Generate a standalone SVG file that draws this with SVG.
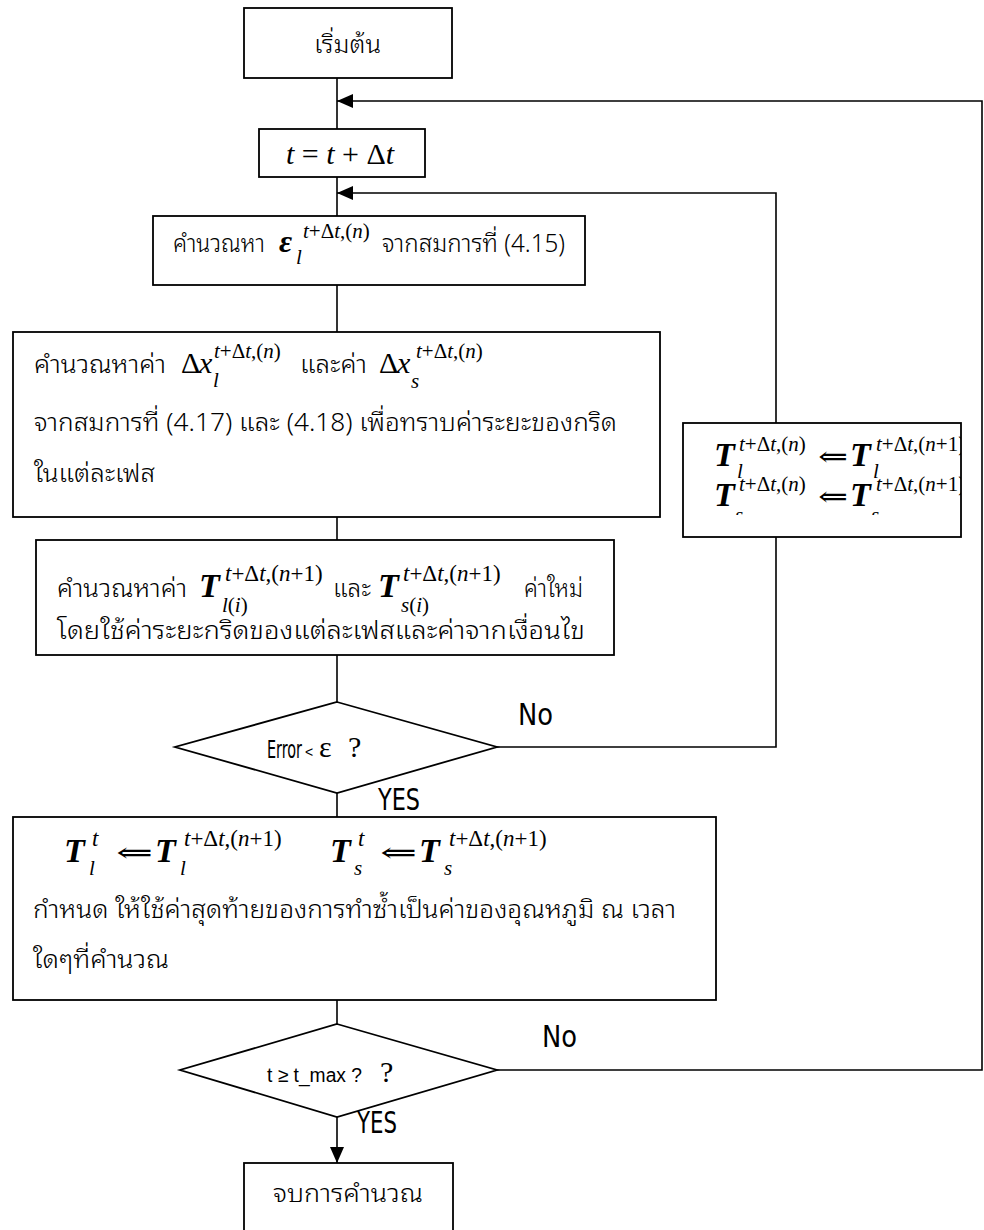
<svg xmlns="http://www.w3.org/2000/svg" width="984" height="1230" viewBox="0 0 984 1230">
<defs>
<style>
.box{fill:none;stroke:#000;stroke-width:1.8}
.ln{fill:none;stroke:#000;stroke-width:1.6}
.th{font-family:"Noto Sans Thai Looped","Noto Sans Thai",Tahoma,Loma,Garuda,"Noto Sans",sans-serif;font-size:25px;font-weight:300;fill:#000}
.m{font-family:"Liberation Serif","Times New Roman",serif;font-style:italic;font-size:30px;fill:#000}
.b{font-weight:bold;font-size:34px}
.s{font-size:21px;font-weight:normal}
.s2{font-size:23px;font-weight:normal}
.u{font-style:normal}
.ar{font-family:"DejaVu Serif","DejaVu Sans",serif;font-style:normal;font-size:28px;fill:#000}
.cond{font-family:"DejaVu Sans Condensed","Liberation Sans Narrow",sans-serif;fill:#000}
.sans{font-family:"Liberation Sans",Arial,sans-serif;fill:#000}
</style>
<marker id="ah" viewBox="0 0 16 14" refX="16" refY="7" markerWidth="16" markerHeight="14" markerUnits="userSpaceOnUse" orient="auto">
<path d="M0,0 L16,7 L0,14 z" fill="#000"/>
</marker>
<clipPath id="rclip"><rect x="683" y="423" width="278" height="92"/></clipPath>
</defs>
<rect width="984" height="1230" fill="#fff"/>

<g id="connectors">
<path class="ln" d="M337,78 V129"/>
<path class="ln" d="M497,1070 H982 V101 H337" marker-end="url(#ah)"/>
<path class="ln" d="M337,177 V216"/>
<path class="ln" d="M497,747 H776 V537"/>
<path class="ln" d="M776,423 V193 H337" marker-end="url(#ah)"/>
<path class="ln" d="M337,285 V332"/>
<path class="ln" d="M337,517 V540"/>
<path class="ln" d="M337,655 V702"/>
<path class="ln" d="M337,793 V817"/>
<path class="ln" d="M337,1000 V1024"/>
<path class="ln" d="M337,1117 V1163" marker-end="url(#ah)"/>
</g>

<g id="start">
<rect class="box" x="244" y="8" width="208" height="70"/>
<text class="th" x="314" y="53" textLength="67" lengthAdjust="spacingAndGlyphs">เริ่มต้น</text>
</g>

<g id="tstep">
<rect class="box" x="259" y="129" width="166" height="48"/>
<text class="m" x="340" y="164" text-anchor="middle" font-size="32">t <tspan class="u">= </tspan>t<tspan class="u"> + Δ</tspan>t</text>
</g>

<g id="eps">
<rect class="box" x="153" y="216" width="432" height="69"/>
<text class="th" x="173" y="252" textLength="92" lengthAdjust="spacingAndGlyphs">คำนวณหา</text>
<text class="m" x="279" y="252"><tspan font-weight="bold" font-size="32">ε</tspan><tspan class="s" x="303" y="238">t<tspan class="u">+Δ</tspan>t<tspan class="u">,(</tspan>n<tspan class="u">)</tspan></tspan><tspan class="s" x="296" y="264">l</tspan></text>
<text class="th" x="382" y="252" textLength="183" lengthAdjust="spacingAndGlyphs">จากสมการที่ (4.15)</text>
</g>

<g id="dx">
<rect class="box" x="13" y="332" width="647" height="185"/>
<text class="th" x="34" y="373" textLength="132" lengthAdjust="spacingAndGlyphs">คำนวณหาค่า</text>
<text class="m" x="181" y="373"><tspan class="u">Δ</tspan><tspan x="199">x</tspan><tspan class="s" x="214" y="358">t<tspan class="u">+Δ</tspan>t<tspan class="u">,(</tspan>n<tspan class="u">)</tspan></tspan><tspan class="s" x="213" y="387">l</tspan></text>
<text class="th" x="300" y="373" textLength="67" lengthAdjust="spacingAndGlyphs">และค่า</text>
<text class="m" x="379" y="373"><tspan class="u">Δ</tspan><tspan x="397">x</tspan><tspan class="s" x="416" y="358">t<tspan class="u">+Δ</tspan>t<tspan class="u">,(</tspan>n<tspan class="u">)</tspan></tspan><tspan class="s" x="411" y="388">s</tspan></text>
<text class="th" x="34" y="431" textLength="583" lengthAdjust="spacingAndGlyphs">จากสมการที่ (4.17) และ (4.18) เพื่อทราบค่าระยะของกริด</text>
<text class="th" x="34" y="482" textLength="121" lengthAdjust="spacingAndGlyphs">ในแต่ละเฟส</text>
</g>

<g id="tcalc">
<rect class="box" x="36" y="540" width="578" height="115"/>
<text class="th" x="57" y="597" textLength="130" lengthAdjust="spacingAndGlyphs">คำนวณหาค่า</text>
<text class="m b" x="199" y="597">T<tspan class="s2" x="225" y="581">t<tspan class="u">+Δ</tspan>t<tspan class="u">,(</tspan>n<tspan class="u">+1)</tspan></tspan><tspan class="s" x="222" y="612">l<tspan class="u">(</tspan>i<tspan class="u">)</tspan></tspan></text>
<text class="th" x="333" y="597" textLength="38" lengthAdjust="spacingAndGlyphs">และ</text>
<text class="m b" x="378" y="597">T<tspan class="s2" x="403" y="581">t<tspan class="u">+Δ</tspan>t<tspan class="u">,(</tspan>n<tspan class="u">+1)</tspan></tspan><tspan class="s" x="401" y="612">s<tspan class="u">(</tspan>i<tspan class="u">)</tspan></tspan></text>
<text class="th" x="524" y="597" textLength="59" lengthAdjust="spacingAndGlyphs">ค่าใหม่</text>
<text class="th" x="57" y="639" textLength="528" lengthAdjust="spacingAndGlyphs">โดยใช้ค่าระยะกริดของแต่ละเฟสและค่าจากเงื่อนไข</text>
</g>

<g id="dec1">
<polygon class="box" points="337,702 497,747 337,793 175,747"/>
<text class="cond" x="267" y="758" font-size="25" textLength="35" lengthAdjust="spacingAndGlyphs">Error</text>
<text class="m u" x="305" y="758" font-size="24"><tspan class="sans" font-size="14" y="757">&lt;</tspan><tspan x="319">ε</tspan><tspan x="348">?</tspan></text>
</g>

<g id="update">
<rect class="box" x="683" y="423" width="278" height="114"/>
<g clip-path="url(#rclip)">
<text class="m b" x="714" y="466" font-size="33">T<tspan class="s" x="739" y="451">t<tspan class="u">+Δ</tspan>t<tspan class="u">,(</tspan>n<tspan class="u">)</tspan></tspan><tspan class="s" x="737" y="478">l</tspan></text>
<text class="ar" x="818" y="466" textLength="30" lengthAdjust="spacingAndGlyphs">⇐</text>
<text class="m b" x="850" y="466" font-size="33">T<tspan class="s" x="876" y="451">t<tspan class="u">+Δ</tspan>t<tspan class="u">,(</tspan>n<tspan class="u">+1)</tspan></tspan><tspan class="s" x="873" y="478">l</tspan></text>
<text class="m b" x="714" y="506" font-size="33">T<tspan class="s" x="739" y="491">t<tspan class="u">+Δ</tspan>t<tspan class="u">,(</tspan>n<tspan class="u">)</tspan></tspan><tspan class="s" x="735" y="522">s</tspan></text>
<text class="ar" x="818" y="506" textLength="30" lengthAdjust="spacingAndGlyphs">⇐</text>
<text class="m b" x="850" y="506" font-size="33">T<tspan class="s" x="876" y="491">t<tspan class="u">+Δ</tspan>t<tspan class="u">,(</tspan>n<tspan class="u">+1)</tspan></tspan><tspan class="s" x="871" y="522">s</tspan></text>
</g>
</g>

<g id="final">
<rect class="box" x="13" y="817" width="703" height="183"/>
<text class="m b" x="64" y="862">T<tspan class="s2" x="92" y="846">t</tspan><tspan class="s" x="89" y="875">l</tspan></text>
<text class="ar" x="116" y="862" textLength="37" lengthAdjust="spacingAndGlyphs">⇐</text>
<text class="m b" x="155" y="862">T<tspan class="s2" x="184" y="846">t<tspan class="u">+Δ</tspan>t<tspan class="u">,(</tspan>n<tspan class="u">+1)</tspan></tspan><tspan class="s" x="180" y="875">l</tspan></text>
<text class="m b" x="330" y="862">T<tspan class="s2" x="358" y="846">t</tspan><tspan class="s" x="354" y="875">s</tspan></text>
<text class="ar" x="380" y="862" textLength="37" lengthAdjust="spacingAndGlyphs">⇐</text>
<text class="m b" x="419" y="862">T<tspan class="s2" x="449" y="846">t<tspan class="u">+Δ</tspan>t<tspan class="u">,(</tspan>n<tspan class="u">+1)</tspan></tspan><tspan class="s" x="444" y="875">s</tspan></text>
<text class="th" x="33" y="918" textLength="643" lengthAdjust="spacingAndGlyphs">กำหนด ให้ใช้ค่าสุดท้ายของการทำซ้ำเป็นค่าของอุณหภูมิ ณ เวลา</text>
<text class="th" x="33" y="968" textLength="136" lengthAdjust="spacingAndGlyphs">ใดๆที่คำนวณ</text>
</g>

<g id="dec2">
<polygon class="box" points="337,1024 497,1070 337,1117 180,1070"/>
<text class="sans" x="267" y="1082" font-size="20" textLength="95" lengthAdjust="spacingAndGlyphs">t ≥ t_max ?</text>
<text class="m u" x="380" y="1082" font-size="28">?</text>
</g>

<g id="end">
<rect class="box" x="244" y="1163" width="209" height="80"/>
<text class="th" x="273" y="1202" textLength="150" lengthAdjust="spacingAndGlyphs">จบการคำนวณ</text>
</g>

<g id="labels">
<text class="cond" x="518" y="725" font-size="30" textLength="35" lengthAdjust="spacingAndGlyphs">No</text>
<text class="cond" x="378" y="810" font-size="30" textLength="42" lengthAdjust="spacingAndGlyphs">YES</text>
<text class="cond" x="542" y="1047" font-size="30" textLength="35" lengthAdjust="spacingAndGlyphs">No</text>
<text class="cond" x="357" y="1133" font-size="30" textLength="40" lengthAdjust="spacingAndGlyphs">YES</text>
</g>
</svg>
